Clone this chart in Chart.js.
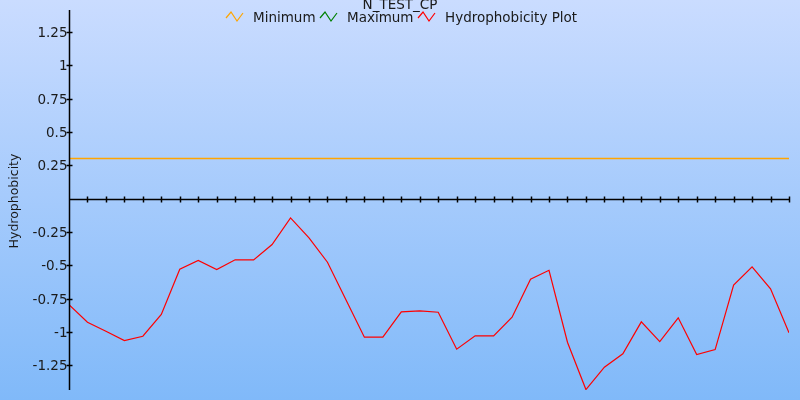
<!DOCTYPE html>
<html><head><meta charset="utf-8">
<script src="https://cdn.jsdelivr.net/npm/chart.js@4/dist/chart.umd.min.js"></script>
<style>
html,body{margin:0;padding:0;}
body{width:800px;height:400px;background:linear-gradient(to bottom,#cadcff 0%,#80b9f9 100%);}
#wrap{width:800px;height:400px;position:relative;}
</style></head>
<body><div id="wrap"><canvas id="c" width="800" height="400"></canvas></div>
<script>
const chartTitle = 'N_TEST_CP';
const yTitle = 'Hydrophobicity';
const seriesNames = ['Minimum', 'Maximum', 'Hydrophobicity Plot'];
const seriesColors = ['#ffa500', '#008000', '#ff0000'];
const yTicks = [-1.25, -1, -0.75, -0.5, -0.25, 0.25, 0.5, 0.75, 1, 1.25];
const minimumValue = 0.3;
const maximumValue = 0.3;
const hydrophobicity = [-0.797, -0.928, -0.996, -1.065, -1.033, -0.87, -0.53, -0.465, -0.533, -0.46,
  -0.46, -0.345, -0.145, -0.295, -0.478, -0.76, -1.04, -1.04, -0.85, -0.843,
  -0.853, -1.13, -1.03, -1.03, -0.89, -0.605, -0.538, -1.078, -1.433, -1.265,
  -1.165, -0.925, -1.073, -0.895, -1.17, -1.133, -0.65, -0.512, -0.677, -1.007];
const positions = hydrophobicity.map((_, i) => i);

const font = "'DejaVu Sans', Verdana, sans-serif";

const axesPlugin = {
  id: 'axesPlugin',
  afterDatasetsDraw(chart) {
    const ctx = chart.ctx, x = chart.scales.x, y = chart.scales.y, a = chart.chartArea;
    ctx.save();
    ctx.strokeStyle = '#000'; ctx.lineWidth = 1.5;
    const y0 = Math.round(y.getPixelForValue(0)) + 0.5;
    const x0 = Math.round(x.getPixelForValue(0)) + 0.5;
    ctx.beginPath(); ctx.moveTo(x0, a.top); ctx.lineTo(x0, a.bottom); ctx.stroke();
    ctx.beginPath(); ctx.moveTo(x0, y0); ctx.lineTo(x.getPixelForValue(positions[positions.length-1]), y0); ctx.stroke();
    positions.forEach(p => {
      if (p === 0) return;
      const px = Math.round(x.getPixelForValue(p)) + 0.5;
      ctx.beginPath(); ctx.moveTo(px, y0 - 3); ctx.lineTo(px, y0 + 3); ctx.stroke();
    });
    ctx.fillStyle = '#1a1a1a'; ctx.font = '13.5px ' + font;
    ctx.textAlign = 'right'; ctx.textBaseline = 'middle';
    yTicks.forEach(v => {
      const py = Math.round(y.getPixelForValue(v)) + 0.5;
      ctx.beginPath(); ctx.moveTo(x0 - 3, py); ctx.lineTo(x0 + 3, py); ctx.stroke();
      ctx.fillText(String(v), x0 - 2, py + 1);
    });
    ctx.save();
    ctx.translate(15, 201); ctx.rotate(-Math.PI / 2);
    ctx.textAlign = 'center'; ctx.font = '12.5px ' + font;
    ctx.fillText(yTitle, 0, 0);
    ctx.restore();
    ctx.textAlign = 'center'; ctx.font = '13.5px ' + font; ctx.textBaseline = 'alphabetic';
    ctx.fillText(chartTitle, 400, 9);
    const items = [[226, 253], [320, 347], [418, 445]];
    ctx.textAlign = 'left';
    items.forEach((it, i) => {
      const ix = it[0];
      ctx.strokeStyle = seriesColors[i]; ctx.lineWidth = 1.2;
      ctx.beginPath();
      ctx.moveTo(ix, 18); ctx.lineTo(ix + 5, 12); ctx.lineTo(ix + 11, 21); ctx.lineTo(ix + 17, 13);
      ctx.stroke();
      ctx.fillStyle = '#1a1a1a';
      ctx.fillText(seriesNames[i], it[1], 22);
    });
    ctx.restore();
  }
};

new Chart(document.getElementById('c'), {
  type: 'line',
  data: {
    datasets: [
      { label: seriesNames[0], data: positions.map(p => ({x: p, y: minimumValue})), borderColor: seriesColors[0], borderWidth: 1.6, pointRadius: 0, order: 0 },
      { label: seriesNames[1], data: positions.map(p => ({x: p, y: maximumValue})), borderColor: seriesColors[1], borderWidth: 1, pointRadius: 0, order: 2 },
      { label: seriesNames[2], data: positions.map((p, i) => ({x: p, y: hydrophobicity[i]})), borderColor: seriesColors[2], borderWidth: 1.2, pointRadius: 0, order: 1 }
    ]
  },
  options: {
    responsive: false, animation: false,
    layout: { padding: { left: 69, right: 11, top: 10, bottom: 10 } },
    plugins: { legend: { display: false }, title: { display: false }, tooltip: { enabled: false } },
    scales: {
      x: { type: 'linear', min: 0, max: 39, display: false },
      y: { type: 'linear', min: -1.4362, max: 1.4138, display: false }
    }
  },
  plugins: [axesPlugin]
});
</script></body></html>
